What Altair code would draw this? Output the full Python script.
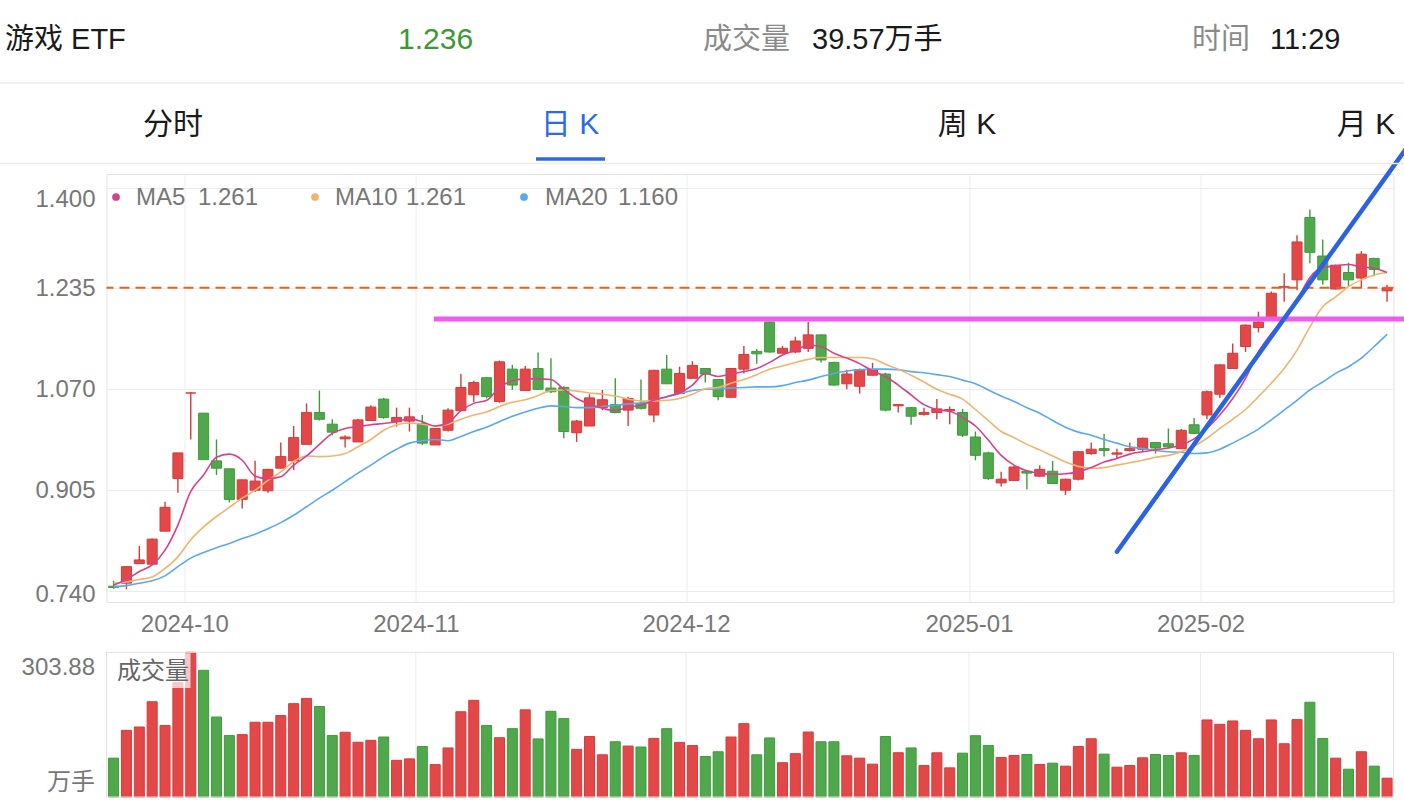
import altair as alt
import pandas as pd

# ---------------- data ----------------
opens = [
 0.748,0.753,0.785,0.784,0.838,0.924,1.064,1.031,0.953,0.940,
 0.890,0.905,0.904,0.941,0.953,0.980,1.032,1.013,0.989,0.984,
 1.019,1.054,1.017,1.018,1.014,0.979,1.003,1.035,1.061,1.089,
 1.050,1.103,1.068,1.104,1.072,1.073,0.999,1.010,1.040,1.045,
 1.036,1.047,1.028,1.103,1.063,1.088,1.104,1.086,1.057,1.103,
 1.132,1.180,1.129,1.131,1.137,1.159,1.114,1.079,1.075,1.093,
 1.095,1.043,1.040,1.029,1.032,1.035,1.032,0.992,0.966,0.917,
 0.921,0.936,0.928,0.936,0.905,0.923,0.965,0.973,0.964,0.970,
 0.972,0.983,0.981,0.973,1.012,1.028,1.062,1.104,1.140,1.171,
 1.183,1.237,1.249,1.351,1.288,1.234,1.261,1.252,1.284,1.231]
highs = [
 0.757,0.781,0.814,0.826,0.886,0.966,1.065,1.031,0.988,0.940,
 0.922,0.953,0.940,0.983,1.010,1.047,1.068,1.021,0.995,1.022,
 1.044,1.056,1.040,1.040,1.028,1.006,1.039,1.095,1.084,1.090,
 1.117,1.110,1.108,1.130,1.121,1.075,1.020,1.062,1.069,1.088,
 1.058,1.086,1.102,1.126,1.107,1.116,1.105,1.087,1.104,1.141,
 1.136,1.181,1.141,1.156,1.180,1.160,1.115,1.102,1.104,1.113,
 1.097,1.046,1.041,1.040,1.054,1.042,1.038,1.001,0.968,0.935,
 0.944,0.937,0.946,0.953,0.924,0.968,0.983,0.997,0.973,0.983,
 0.991,0.984,1.006,1.005,1.023,1.068,1.111,1.145,1.176,1.197,
 1.230,1.260,1.322,1.364,1.315,1.274,1.277,1.296,1.285,1.241]
lows = [
 0.744,0.743,0.785,0.783,0.838,0.901,0.988,0.955,0.930,0.885,
 0.875,0.902,0.901,0.941,0.938,0.980,1.019,0.995,0.975,0.984,
 1.019,1.022,1.009,1.001,0.979,0.979,1.001,1.035,1.049,1.055,
 1.048,1.069,1.068,1.069,1.064,0.990,0.984,1.010,1.036,1.031,
 1.010,1.037,1.016,1.079,1.063,1.088,1.081,1.052,1.057,1.096,
 1.112,1.130,1.129,1.129,1.131,1.114,1.076,1.070,1.063,1.093,
 1.034,1.032,1.012,1.027,1.021,1.013,0.992,0.954,0.922,0.911,
 0.920,0.906,0.927,0.915,0.897,0.921,0.963,0.960,0.957,0.968,
 0.968,0.965,0.974,0.972,0.997,1.021,1.056,1.104,1.131,1.163,
 1.183,1.213,1.232,1.276,1.241,1.233,1.238,1.235,1.255,1.213]
closes = [
 0.746,0.780,0.791,0.825,0.877,0.966,1.064,0.955,0.941,0.890,
 0.922,0.920,0.939,0.960,0.991,1.032,1.021,1.000,0.992,1.020,
 1.041,1.024,1.024,1.025,0.982,1.006,1.036,1.073,1.081,1.058,
 1.115,1.077,1.103,1.070,1.066,1.001,1.018,1.056,1.053,1.032,
 1.055,1.039,1.101,1.079,1.096,1.109,1.095,1.058,1.104,1.127,
 1.128,1.131,1.137,1.149,1.159,1.118,1.077,1.095,1.102,1.102,
 1.036,1.045,1.026,1.032,1.038,1.037,0.995,0.962,0.924,0.923,
 0.943,0.933,0.939,0.916,0.923,0.968,0.972,0.970,0.966,0.973,
 0.990,0.974,0.976,1.003,0.998,1.066,1.110,1.129,1.175,1.180,
 1.227,1.238,1.311,1.294,1.249,1.273,1.249,1.291,1.266,1.236]
volumes = [
 81.6,140,147,200,150,240,303.88,266,168,129,
 131,157,157,171,196,207,190,129,136,115,
 119,126,77,80,106,68,103,179,203,150,
 124.5,143.5,183,122,180,164.6,100,127,88.6,116,
 107,105,123,143.5,114.6,108,85,95,126,154,
 88.6,124,72,91,136.5,116,116,86.5,81.6,69,
 127,93,103,66,92.8,61.2,92.1,128.7,108.3,83,
 87.2,89.3,68.3,71.1,64.8,106.2,122.3,90,62.6,66.1,
 82.3,89.3,87.2,92.8,87.2,161.8,152.6,159.7,139.9,122.3,
 161.8,111.8,162.5,199,123,81.6,58.4,95,64.8,39.57]
ma5 = [
 0.750,0.759,0.772,0.783,0.807,0.848,0.903,0.930,0.959,0.964,
 0.954,0.928,0.924,0.927,0.946,0.961,0.980,0.998,1.006,1.009,
 1.012,1.014,1.017,1.022,1.017,1.010,1.015,1.035,1.047,1.052,
 1.073,1.084,1.087,1.087,1.086,1.070,1.055,1.046,1.039,1.035,
 1.041,1.044,1.052,1.058,1.064,1.077,1.096,1.091,1.095,1.099,
 1.104,1.114,1.126,1.134,1.142,1.140,1.129,1.121,1.112,1.100,
 1.091,1.077,1.061,1.045,1.037,1.034,1.024,1.010,0.987,0.962,
 0.946,0.937,0.933,0.931,0.932,0.935,0.942,0.951,0.957,0.964,
 0.968,0.971,0.974,0.979,0.989,1.006,1.028,1.055,1.088,1.131,
 1.161,1.186,1.216,1.253,1.269,1.272,1.274,1.270,1.268,1.261]
ma10 = [
 0.753,0.755,0.759,0.763,0.777,0.796,0.824,0.845,0.862,0.877,
 0.892,0.905,0.921,0.935,0.952,0.961,0.960,0.961,0.965,0.976,
 0.988,1.003,1.012,1.015,1.013,1.010,1.013,1.021,1.028,1.033,
 1.042,1.049,1.053,1.060,1.068,1.069,1.067,1.064,1.062,1.059,
 1.054,1.051,1.051,1.052,1.055,1.062,1.071,1.073,1.080,1.086,
 1.094,1.103,1.108,1.114,1.119,1.122,1.122,1.122,1.122,1.120,
 1.111,1.103,1.093,1.082,1.070,1.062,1.054,1.037,1.019,1.001,
 0.991,0.980,0.971,0.961,0.951,0.944,0.941,0.942,0.946,0.950,
 0.954,0.959,0.962,0.968,0.977,0.990,1.006,1.021,1.037,1.058,
 1.080,1.104,1.134,1.172,1.205,1.221,1.238,1.249,1.257,1.261]
ma20 = [
 0.747,0.749,0.753,0.757,0.765,0.780,0.794,0.803,0.811,0.818,
 0.826,0.833,0.842,0.852,0.864,0.878,0.892,0.905,0.919,0.933,
 0.946,0.960,0.972,0.982,0.986,0.988,0.986,0.993,1.001,1.008,
 1.017,1.026,1.033,1.039,1.043,1.042,1.040,1.040,1.042,1.044,
 1.046,1.048,1.052,1.058,1.063,1.068,1.070,1.071,1.072,1.073,
 1.074,1.074,1.076,1.081,1.085,1.091,1.096,1.100,1.102,1.103,
 1.103,1.102,1.099,1.097,1.094,1.091,1.085,1.079,1.069,1.059,
 1.050,1.040,1.031,1.019,1.008,1.000,0.995,0.988,0.982,0.976,
 0.973,0.970,0.968,0.967,0.965,0.966,0.972,0.982,0.993,1.005,
 1.020,1.036,1.052,1.069,1.082,1.096,1.107,1.121,1.140,1.160]

month_labels = ["2024-10", "2024-11", "2024-12", "2025-01", "2025-02"]
month_first_idx = [6, 24, 45, 67, 85]
y_ticks = [0.740, 0.905, 1.070, 1.235, 1.400]
vol_max = 303.88
legend_names = ["MA5", "MA10", "MA20"]
legend_values = ["1.261", "1.261", "1.160"]
resist_level = 1.185
resist_from, resist_to = 24.9, 100.4
trend_x = [78.0, 100.7]
trend_y = [0.8044, 1.470]
time_text = "11:29"

n = len(closes)
assert all(len(a) == n for a in [opens, highs, lows, volumes, ma5, ma10, ma20])

df = pd.DataFrame({"i": list(range(n)), "open": opens, "high": highs, "low": lows,
                   "close": closes, "vol": volumes, "ma5": ma5, "ma10": ma10, "ma20": ma20})
df["dir"] = ["up" if c >= o else "down" for o, c in zip(opens, closes)]
bounds = [k - 0.5 for k in month_first_idx]
bdf = pd.DataFrame({"b": bounds})

# ---------------- layout ----------------
FONT = "Liberation Sans, Noto Sans CJK SC, sans-serif"
PAD_L, PAD_T, PAD_R, PAD_B = 106.5, 174, 10.5, 204
W, H = 1287, 428
VOL_TOP, VOL_BOT = 652.3 - PAD_T, 797 - PAD_T
RED, GREEN = "#e34848", "#50a84c"
RED_S, GREEN_S = "#d73a3a", "#3f9a3c"
C5, C10, C20 = "#d9408a", "#f0b46c", "#5aa8ee"
GRID = "#ececec"

XS = alt.Scale(domain=[-0.55, 99.5], nice=False, zero=False)
YP = alt.Scale(domain=[0.7222, 1.4221], nice=False, zero=False)
YV = alt.Scale(domain=[0, vol_max], range=[VOL_BOT, VOL_TOP], nice=False, zero=False)
FILL = alt.Scale(domain=["up", "down"], range=[RED, GREEN])
STROKE = alt.Scale(domain=["up", "down"], range=[RED_S, GREEN_S])

lab_expr = "[" + ",".join("'%s'" % s for s in month_labels) + "][indexof([" + \
    ",".join(str(b) for b in bounds) + "], datum.value)]"
XAX = alt.Axis(values=bounds, labelExpr=lab_expr, title=None, grid=True, gridColor=GRID,
               ticks=False, domain=False, labelFontSize=24, labelColor="#777777",
               labelPadding=10, labelFont=FONT, labelFlush=False, labelOverlap=False)
YAX = alt.Axis(values=y_ticks, format=".3f", title=None, grid=True, gridColor=GRID,
               ticks=False, domain=False, labelFontSize=24, labelColor="#777777",
               labelPadding=11.5, labelFont=FONT, labelOverlap=False,
               labelBaseline={"condition": {"test": "datum.value > 1.39", "value": "top"},
                              "value": "middle"},
               labelOffset={"condition": {"test": "datum.value < 0.75", "value": 3},
                            "value": 0})

def X(f):
    return alt.X(f, scale=XS, axis=XAX)

def Y(f):
    return alt.Y(f, scale=YP, axis=YAX)

base = alt.Chart(df)

dash = alt.Chart(pd.DataFrame({"y": [closes[-1]]})).mark_rule(
    color="#e5641c", strokeDash=[10, 6], strokeWidth=2).encode(y=Y("y:Q"))
wicks = base.mark_rule(strokeWidth=1.4).encode(
    x=X("i:Q"), y=Y("low:Q"), y2="high:Q",
    stroke=alt.Stroke("dir:N", scale=STROKE, legend=None))
bodies = base.transform_calculate(x1="datum.i - 0.39", x2="datum.i + 0.39").mark_rect(
    strokeWidth=1).encode(
    x=X("x1:Q"), x2="x2:Q", y=Y("open:Q"), y2="close:Q",
    fill=alt.Fill("dir:N", scale=FILL, legend=None),
    stroke=alt.Stroke("dir:N", scale=STROKE, legend=None))
l20 = base.mark_line(color=C20, strokeWidth=1.6, interpolate="monotone").encode(x=X("i:Q"), y=Y("ma20:Q"))
l10 = base.mark_line(color=C10, strokeWidth=1.6, interpolate="monotone").encode(x=X("i:Q"), y=Y("ma10:Q"))
l5 = base.mark_line(color=C5, strokeWidth=1.6, interpolate="monotone").encode(x=X("i:Q"), y=Y("ma5:Q"))
resist = alt.Chart(pd.DataFrame({"x1": [resist_from], "x2": [resist_to], "y": [resist_level]})).mark_rule(
    color="#ee5cee", strokeWidth=5).encode(x=X("x1:Q"), x2="x2:Q", y=Y("y:Q"))
trend = alt.Chart(pd.DataFrame({"x1": [trend_x[0]], "x2": [trend_x[1]],
                                "y1": [trend_y[0]], "y2": [trend_y[1]]})).mark_rule(
    color="#2b62e3", strokeWidth=4.5, strokeCap="round").encode(
    x=X("x1:Q"), x2="x2:Q", y=Y("y1:Q"), y2="y2:Q")

price = alt.layer(wicks, bodies, dash, l20, l10, l5, resist, trend)

volgrid = alt.Chart(bdf).mark_rule(color=GRID, strokeWidth=1).encode(
    x=X("b:Q"), y=alt.value(VOL_TOP), y2=alt.value(VOL_BOT))
volbars = base.transform_calculate(x1="datum.i - 0.39", x2="datum.i + 0.39").mark_rect(
    strokeWidth=1).encode(
    x=X("x1:Q"), x2="x2:Q",
    y=alt.Y("vol:Q", scale=YV, axis=None), y2=alt.datum(0),
    fill=alt.Fill("dir:N", scale=FILL, legend=None),
    stroke=alt.Stroke("dir:N", scale=STROKE, legend=None))
vol = alt.layer(volgrid, volbars)

ONE = pd.DataFrame({"k": [0]})

def T(s, x, y, size=24, color="#777777", align="left", baseline="middle"):
    return alt.Chart(ONE).mark_text(text=s, align=align, baseline=baseline, fontSize=size,
                                    color=color, font=FONT).encode(
        x=alt.value(x - PAD_L), y=alt.value(y - PAD_T))

def HL(x1, x2, y, color, width):
    return alt.Chart(ONE).mark_rule(color=color, strokeWidth=width).encode(
        x=alt.value(x1 - PAD_L), x2=alt.value(x2 - PAD_L), y=alt.value(y - PAD_T))

def DOT(x, y, color):
    return alt.Chart(ONE).mark_circle(color=color, size=60, opacity=1).encode(
        x=alt.value(x - PAD_L), y=alt.value(y - PAD_T))

decor = [
    T("游戏 ETF", 5, 40, 29, "#1a1a1a"),
    T("%.3f" % closes[-1], 398, 40, 30, "#3a9a30"),
    T("成交量", 703, 40, 29, "#8a8a8a"),
    T("%.2f万手" % volumes[-1], 812, 40, 29, "#1a1a1a"),
    T("时间", 1192, 40, 29, "#8a8a8a"),
    T(time_text, 1270, 40, 29, "#1a1a1a"),
    HL(0, 1404, 83, "#ececec", 1.5),
    T("分时", 173, 125, 30, "#1a1a1a", "center"),
    T("日 K", 570, 125, 30, "#2b6de0", "center"),
    T("周 K", 967, 125, 30, "#1a1a1a", "center"),
    T("月 K", 1366, 125, 30, "#1a1a1a", "center"),
    HL(536, 605, 159, "#2b6de0", 3.5),
    HL(0, 1404, 163.5, "#ececec", 1.5),
    DOT(116, 197, C5), T(legend_names[0], 136, 198), T(legend_values[0], 198, 198),
    DOT(315, 197, C10), T(legend_names[1], 335, 198), T(legend_values[1], 406, 198),
    DOT(524, 197, C20), T(legend_names[2], 545, 198), T(legend_values[2], 618, 198),
    alt.Chart(ONE).mark_rect(fillOpacity=0, stroke="#e3e3e3", strokeWidth=1).encode(
        x=alt.value(0), x2=alt.value(W), y=alt.value(VOL_TOP), y2=alt.value(VOL_BOT)),
    alt.Chart(ONE).mark_rect(color="white", opacity=0.7).encode(
        x=alt.value(0.5), x2=alt.value(84), y=alt.value(VOL_TOP + 1), y2=alt.value(688 - PAD_T)),
    T("成交量", 117, 672, 24, "#666666"),
    T("%.2f" % vol_max, 95, 668, 24, "#777777", "right"),
    T("万手", 95, 783, 24, "#777777", "right"),
]

chart = alt.layer(price, vol, *decor).resolve_scale(y="independent").properties(
    width=W, height=H,
    autosize=alt.AutoSizeParams(type="none"),
    padding={"left": PAD_L, "top": PAD_T, "right": PAD_R, "bottom": PAD_B},
    background="white",
).configure_view(stroke="#e3e3e3", strokeWidth=1)

chart.save("out.html", embed_options={"renderer": "svg", "actions": False})
